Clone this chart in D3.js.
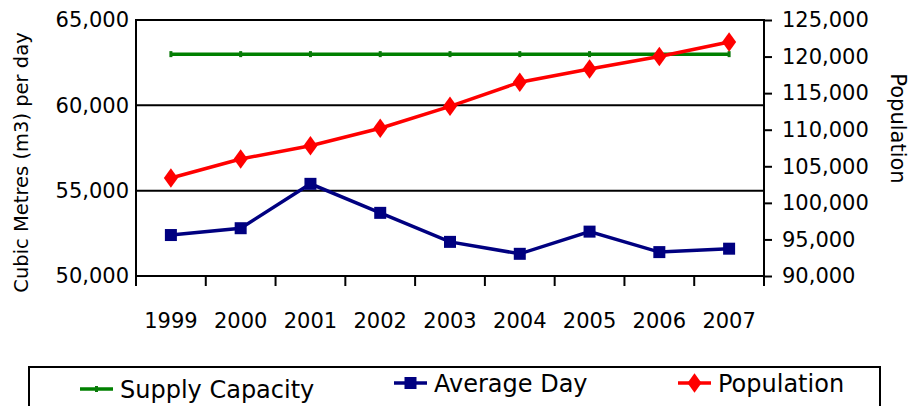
<!DOCTYPE html>
<html>
<head>
<meta charset="utf-8">
<script src="https://cdn.jsdelivr.net/npm/d3@7"></script>
<style>
html,body{margin:0;padding:0;background:#fff;}
svg{display:block;font-family:"DejaVu Sans",sans-serif;}
</style>
</head>
<body>
<svg id="chart" width="912" height="406"></svg>
<script>
const years = ["1999","2000","2001","2002","2003","2004","2005","2006","2007"];
const supplyCapacity = [63000,63000,63000,63000,63000,63000,63000,63000,63000];
const averageDay = [52400,52800,55400,53700,52000,51300,52600,51400,51600];
const population = [103400,106000,107800,110200,113200,116500,118300,120000,122000];
const leftTicks = [50000,55000,60000,65000];
const rightTicks = [90000,95000,100000,105000,110000,115000,120000,125000];

const svg = d3.select("#chart");
const L = 136, R = 764, T = 20, B = 276;

const x = d3.scaleBand().domain(years).range([L, R]).paddingInner(0).paddingOuter(0);
const yL = d3.scaleLinear().domain([50000, 65000]).range([B, T]);
const yR = d3.scaleLinear().domain([90000, 125000]).range([B, T]);
const fmt = d3.format(",");
const cx = d => x(d) + x.bandwidth() / 2;

// gridlines
svg.append("g").selectAll("line").data(leftTicks).join("line")
  .attr("x1", L).attr("x2", R)
  .attr("y1", d => yL(d)).attr("y2", d => yL(d))
  .attr("stroke", "#000").attr("stroke-width", 2);

// frame
svg.append("rect").attr("x", L).attr("y", T).attr("width", R - L).attr("height", B - T)
  .attr("fill", "none").attr("stroke", "#000").attr("stroke-width", 2);

// left axis labels
const gL = svg.append("g").attr("transform", `translate(${L},0)`)
  .call(d3.axisLeft(yL).tickValues(leftTicks).tickFormat(fmt).tickSize(0).tickPadding(7));
gL.select(".domain").remove();
gL.selectAll("text").attr("font-size", 21).attr("font-family", "DejaVu Sans").attr("fill", "#000");

// right axis
const gR = svg.append("g").attr("transform", `translate(${R},0)`)
  .call(d3.axisRight(yR).tickValues(rightTicks).tickFormat(fmt).tickSize(8).tickPadding(10));
gR.select(".domain").remove();
gR.selectAll("line").attr("stroke", "#000").attr("stroke-width", 2);
gR.selectAll("text").attr("font-size", 21).attr("font-family", "DejaVu Sans").attr("fill", "#000");

// bottom axis ticks at boundaries
const bounds = years.map(d => x(d)).concat([R]);
svg.append("g").selectAll("line").data(bounds).join("line")
  .attr("x1", d => d).attr("x2", d => d).attr("y1", B).attr("y2", B + 10)
  .attr("stroke", "#000").attr("stroke-width", 2);
svg.append("g").selectAll("text").data(years).join("text")
  .attr("x", d => cx(d)).attr("y", 328).attr("text-anchor", "middle")
  .attr("font-size", 21).attr("fill", "#000").text(d => d);

// axis titles
svg.append("text").attr("transform", `translate(28,${(30 + 295) / 2}) rotate(-90)`)
  .attr("text-anchor", "middle").attr("font-size", 19.5).attr("fill", "#000")
  .text("Cubic Metres (m3) per day");
svg.append("text").attr("transform", `translate(891,${(70 + 187) / 2}) rotate(90)`)
  .attr("text-anchor", "middle").attr("font-size", 21).attr("fill", "#000")
  .text("Population");

// series
const lineL = d3.line().x((d, i) => cx(years[i])).y(d => yL(d));
const lineR = d3.line().x((d, i) => cx(years[i])).y(d => yR(d));

svg.append("path").datum(supplyCapacity).attr("d", lineL)
  .attr("fill", "none").attr("stroke", "#008000").attr("stroke-width", 3.5);
svg.append("g").selectAll("rect").data(supplyCapacity).join("rect")
  .attr("x", (d, i) => cx(years[i]) - 1.5).attr("y", d => yL(d) - 3)
  .attr("width", 3).attr("height", 6).attr("fill", "#0a7a0a");

svg.append("path").datum(population).attr("d", lineR)
  .attr("fill", "none").attr("stroke", "#ff0000").attr("stroke-width", 3.5);
const dia = d3.symbol().type(d3.symbolDiamond).size(110);
svg.append("g").selectAll("path").data(population).join("path")
  .attr("d", dia)
  .attr("transform", (d, i) => `translate(${cx(years[i])},${yR(d)}) scale(1.25,1)`)
  .attr("fill", "#ff0000");

svg.append("path").datum(averageDay).attr("d", lineL)
  .attr("fill", "none").attr("stroke", "#000080").attr("stroke-width", 3.5);
svg.append("g").selectAll("rect").data(averageDay).join("rect")
  .attr("x", (d, i) => cx(years[i]) - 6).attr("y", d => yL(d) - 6)
  .attr("width", 12).attr("height", 12).attr("fill", "#000080");

// legend
const lg = svg.append("g");
lg.append("rect").attr("x", 29).attr("y", 367).attr("width", 851).attr("height", 60)
  .attr("fill", "#fff").attr("stroke", "#000").attr("stroke-width", 2);
const legendItems = [
  {name: "Supply Capacity", color: "#008000", x0: 80, ty: 398, type: "supply"},
  {name: "Average Day", color: "#000080", x0: 394, ty: 392, type: "avg"},
  {name: "Population", color: "#ff0000", x0: 678, ty: 392, type: "pop"}
];
legendItems.forEach(it => {
  const my = it.ty - 9;
  lg.append("line").attr("x1", it.x0).attr("x2", it.x0 + 33).attr("y1", my).attr("y2", my)
    .attr("stroke", it.color).attr("stroke-width", 3.5);
  if (it.type === "supply") {
    lg.append("rect").attr("x", it.x0 + 15).attr("y", my - 3).attr("width", 3).attr("height", 6).attr("fill", "#0a7a0a");
  } else if (it.type === "avg") {
    lg.append("rect").attr("x", it.x0 + 10.5).attr("y", my - 6).attr("width", 12).attr("height", 12).attr("fill", it.color);
  } else {
    lg.append("path").attr("d", dia).attr("transform", `translate(${it.x0 + 16.5},${my}) scale(1.25,1)`).attr("fill", it.color);
  }
  lg.append("text").attr("x", it.x0 + 40).attr("y", it.ty).attr("font-size", 24).attr("fill", "#000").text(it.name);
});
</script>
</body>
</html>
